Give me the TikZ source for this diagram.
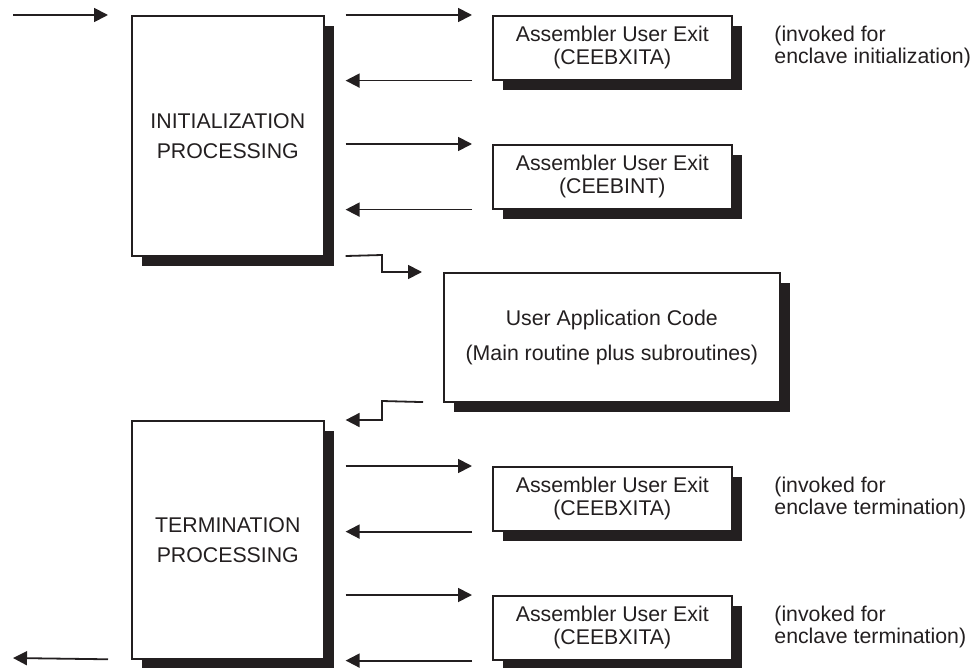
\documentclass[tikz,border=0pt]{standalone}
\usepackage{fontspec}
\setmainfont{Liberation Sans}
\usetikzlibrary{arrows.meta,shadows}
\definecolor{ink}{HTML}{231F20}
\tikzset{
  box/.style={draw=ink, line width=0.8pt, fill=white, inner sep=0pt, anchor=north west,
    align=center, text=ink, font=\fontsize{10.65}{11.6}\selectfont,
    drop shadow={shadow xshift=5pt, shadow yshift=-5pt, fill=ink, opacity=1}},
  asmbox/.style={box, minimum width=119.5pt, minimum height=32pt},
  procbox/.style={box, minimum width=96pt, font=\fontsize{10.65}{15}\selectfont},
  note/.style={anchor=west, align=left, inner sep=0pt, text=ink, font=\fontsize{10.65}{11}\selectfont},
  arr/.style={draw=ink, line width=0.9pt, -{Triangle[length=7pt,width=7pt]}},
}
\begin{document}
\begin{tikzpicture}[x=0.5pt,y=-0.5pt]
\useasboundingbox (0,0) rectangle (978,668);
% main boxes
\node[procbox, minimum height=120pt] (init) at (131,15) {INITIALIZATION\\PROCESSING};
\node[procbox, minimum height=119pt] (term) at (131,420) {TERMINATION\\PROCESSING};
\node[box, minimum width=168pt, minimum height=64.5pt, font=\fontsize{10.65}{17.5}\selectfont] (app) at (443,272) {User Application Code\\(Main routine plus subroutines)};
% assembler exits
\node[asmbox] (a1) at (492,15) {Assembler User Exit\\(CEEBXITA)};
\node[asmbox] (a2) at (492,144) {Assembler User Exit\\(CEEBINT)};
\node[asmbox] (a3) at (492,466) {Assembler User Exit\\(CEEBXITA)};
\node[asmbox] (a4) at (492,595) {Assembler User Exit\\(CEEBXITA)};
% notes
\node[note] (n1) at (774,47) {(invoked for\\enclave initialization)};
\node[note] (n3) at (774,497.5) {(invoked for\\enclave termination)};
\node[note] (n4) at (774,626.5) {(invoked for\\enclave termination)};
% free ends and corners
\coordinate (inpt) at (13,15);
\coordinate (outpt) at (13,658);
\coordinate (k1) at (382,255);
\coordinate (k2) at (382,272);
\coordinate (k3) at (382,401);
\coordinate (k4) at (382,420);
% entry / exit
\draw[arr, shorten >=11.5pt] (inpt) -- (init.north west);
\draw[arr, shorten <=11.5pt] (term.south west) -- (outpt);
% calls to exits
\foreach \a/\p in {a1/init, a2/init, a3/term, a4/term}{
  \draw[arr, shorten <=10.5pt, shorten >=10pt] (\p.east |- \a.north west) -- (\a.north west);
  \draw[arr, shorten <=10pt, shorten >=10.5pt] (\a.south west) -- (\p.east |- \a.south west);
}
% to and from application
\draw[arr, shorten <=10.5pt, shorten >=10.5pt] (init.south east) -- (k1) -- (k2) -- (app.north west);
\draw[arr, shorten <=10pt, shorten >=10.5pt] (app.south west) -- (k3) -- (k4) -- (term.north east);
\end{tikzpicture}
\end{document}
